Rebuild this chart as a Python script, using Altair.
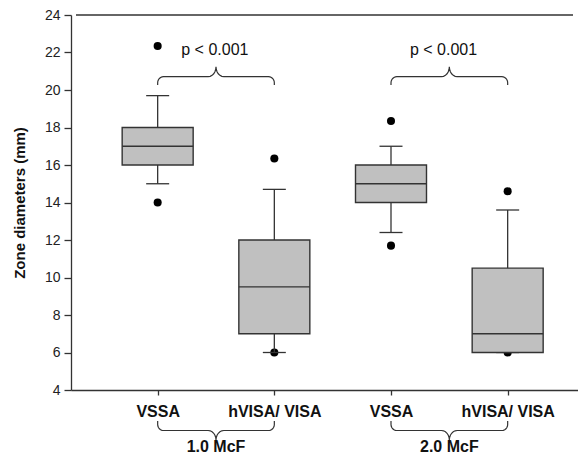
import json
import math
import altair as alt
import pandas as pd

# ---------------- data ----------------
categories = ["VSSA", "hVISA/ VISA", "VSSA", "hVISA/ VISA"]
positions = [1, 2, 3, 4]
whisker_low = [15.0, 6.0, 12.4, 6.0]
q1 = [16.0, 7.0, 14.0, 6.0]
median = [17.0, 9.5, 15.0, 7.0]
q3 = [18.0, 12.0, 16.0, 10.5]
whisker_high = [19.7, 14.7, 17.0, 13.6]

outlier_pos = [1, 1, 2, 2, 3, 3, 4, 4]
outlier_val = [22.35, 14.0, 16.35, 6.0, 18.35, 11.7, 14.6, 6.0]

group_labels = ["1.0 McF", "2.0 McF"]
group_pairs = [(1, 2), (3, 4)]
p_labels = ["p < 0.001", "p < 0.001"]
p_label_x = [1.49, 3.45]
y_ticks = list(range(4, 25, 2))

# ---------------- layout ----------------
W, H = 507, 375
XDOM = [0.3, 4.56]
YDOM = [4, 24]
PX_X = W / (XDOM[1] - XDOM[0])
PX_Y = H / (YDOM[1] - YDOM[0])
FONT = "Liberation Sans"
LINE = "#333333"

xs = alt.Scale(domain=XDOM, nice=False, zero=False)
ys = alt.Scale(domain=YDOM, nice=False, zero=False)

boxes = pd.DataFrame({
    "pos": positions, "cat": categories, "lo": whisker_low, "q1": q1,
    "med": median, "q3": q3, "hi": whisker_high,
})
outliers = pd.DataFrame({"pos": outlier_pos, "val": outlier_val})


def brace_points(x0, x1, y_end, direction, h1, tip, r, rt, steps=6):
    """Curly brace as a polyline; pixel offsets converted to data units."""
    L = (x1 - x0) * PX_X
    pts = [(0.0, 0.0)]
    cx, cy = r, h1 - r
    for i in range(steps + 1):
        t = math.radians(180 - 90 * i / steps)
        pts.append((cx + r * math.cos(t), cy + r * math.sin(t)))
    cx, cy = L / 2 - rt, h1 + tip
    for i in range(steps + 1):
        t = math.radians(270 + 90 * i / steps)
        pts.append((cx + rt * math.cos(t), cy + tip * math.sin(t)))
    cx, cy = L / 2 + rt, h1 + tip
    for i in range(steps + 1):
        t = math.radians(180 + 90 * i / steps)
        pts.append((cx + rt * math.cos(t), cy + tip * math.sin(t)))
    cx, cy = L - r, h1 - r
    for i in range(steps + 1):
        t = math.radians(90 - 90 * i / steps)
        pts.append((cx + r * math.cos(t), cy + r * math.sin(t)))
    pts.append((L, 0.0))
    return [(x0 + u / PX_X, y_end + direction * v / PX_Y) for u, v in pts]


rows = []
for k, (a, b) in enumerate(group_pairs):
    top_end = YDOM[1] - 70 / PX_Y
    for j, (x, y) in enumerate(brace_points(a, b, top_end, 1, 8.3, 10, 6, 8)):
        rows.append({"id": f"t{k}", "i": j, "x": x, "y": y})
    bot_end = YDOM[0] - 31 / PX_Y
    for j, (x, y) in enumerate(brace_points(a, b, bot_end, -1, 9.5, 9.5, 6, 8)):
        rows.append({"id": f"b{k}", "i": j, "x": x, "y": y})
braces = pd.DataFrame(rows)

ptext = pd.DataFrame({"x": p_label_x, "y": [YDOM[1] - 40 / PX_Y] * 2, "t": p_labels})
gtext = pd.DataFrame({
    "x": [(a + b) / 2 for a, b in group_pairs],
    "y": [YDOM[0] - 62 / PX_Y] * 2,
    "t": group_labels,
})
frame = pd.DataFrame({"x": [XDOM[0]], "x2": [XDOM[1]], "y": [YDOM[1]]})

label_expr = json.dumps(categories) + "[datum.value - 1]"

x_axis = alt.Axis(
    values=positions, labelExpr=label_expr, title=None, grid=False,
    labelFont=FONT, labelFontSize=16, labelFontWeight="bold", labelColor="#111111",
    labelPadding=8, labelFlush=False, labelOverlap=False,
    tickSize=5, tickColor=LINE, tickWidth=1.3, domainColor=LINE, domainWidth=1.3,
)
y_axis = alt.Axis(
    values=y_ticks, title="Zone diameters (mm)", grid=False,
    titleFont=FONT, titleFontSize=15, titleFontWeight="bold", titleColor="#111111",
    titlePadding=17,
    labelFont=FONT, labelFontSize=14, labelColor="#222222", labelPadding=4,
    labelFlush=False,
    tickSize=7, tickColor=LINE, tickWidth=1.3, domainColor=LINE, domainWidth=1.3,
)

X = lambda f: alt.X(f, scale=xs, axis=x_axis)
Y = lambda f: alt.Y(f, scale=ys, axis=y_axis)

out_layer = alt.Chart(outliers).mark_circle(size=65, color="#000000", opacity=1).encode(
    x=X("pos:Q"), y=Y("val:Q"))
wl = alt.Chart(boxes).mark_rule(color=LINE, strokeWidth=1.3).encode(
    x=X("pos:Q"), y=Y("lo:Q"), y2="q1:Q")
wh = alt.Chart(boxes).mark_rule(color=LINE, strokeWidth=1.3).encode(
    x=X("pos:Q"), y=Y("q3:Q"), y2="hi:Q")
cap_lo = alt.Chart(boxes).mark_tick(orient="horizontal", size=23, thickness=1.3,
                                    color=LINE, opacity=1).encode(
    x=X("pos:Q"), y=Y("lo:Q"))
cap_hi = alt.Chart(boxes).mark_tick(orient="horizontal", size=23, thickness=1.3,
                                    color=LINE, opacity=1).encode(
    x=X("pos:Q"), y=Y("hi:Q"))
box = alt.Chart(boxes).mark_bar(size=71, fill="#c0c0c0", stroke=LINE, strokeWidth=1.4,
                                opacity=1).encode(
    x=X("pos:Q"), y=Y("q1:Q"), y2="q3:Q")
med = alt.Chart(boxes).mark_tick(orient="horizontal", size=71, thickness=1.4,
                                 color=LINE, opacity=1).encode(
    x=X("pos:Q"), y=Y("med:Q"))
brace_layer = alt.Chart(braces).mark_line(color=LINE, strokeWidth=1.2).encode(
    x=X("x:Q"), y=Y("y:Q"), detail="id:N", order="i:Q")
p_layer = alt.Chart(ptext).mark_text(font=FONT, fontSize=16, color="#111111",
                                     baseline="alphabetic", align="center").encode(
    x=X("x:Q"), y=Y("y:Q"), text="t:N")
g_layer = alt.Chart(gtext).mark_text(font=FONT, fontSize=16, fontWeight="bold", color="#111111",
                                     baseline="alphabetic", align="center").encode(
    x=X("x:Q"), y=Y("y:Q"), text="t:N")
frame_layer = alt.Chart(frame).mark_rule(color=LINE, strokeWidth=1.3).encode(
    x=X("x:Q"), x2="x2:Q", y=Y("y:Q"))

chart = alt.layer(
    out_layer, wl, wh, cap_lo, cap_hi, box, med, brace_layer, p_layer, g_layer, frame_layer
).properties(
    width=W, height=H,
    autosize=alt.AutoSizeParams(type="none"),
    padding={"left": 63, "top": 7, "right": 0, "bottom": 64},
).configure_view(stroke=None)

chart.save("out.html", embed_options={"renderer": "svg", "actions": False})
